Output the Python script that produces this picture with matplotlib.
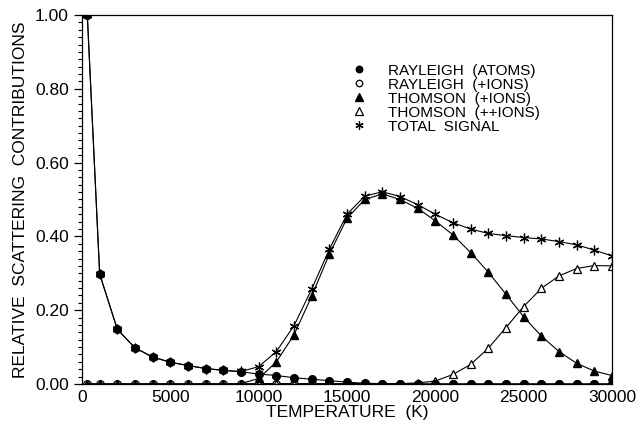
import matplotlib.pyplot as plt
from matplotlib.ticker import MultipleLocator, FormatStrFormatter

# temperature grid (K)
temperature = [300, 1000, 2000, 3000, 4000, 5000, 6000, 7000, 8000, 9000,
               10000, 11000, 12000, 13000, 14000, 15000, 16000, 17000, 18000, 19000,
               20000, 21000, 22000, 23000, 24000, 25000, 26000, 27000, 28000, 29000,
               30000]

rayleigh_atoms = [1.00, 0.298, 0.148, 0.098, 0.073, 0.059, 0.050, 0.042, 0.037, 0.033,
                  0.027, 0.023, 0.017, 0.013, 0.009, 0.005, 0.002, 0.001, 0.001, 0.0,
                  0.0, 0.0, 0.0, 0.0, 0.0, 0.0, 0.0, 0.0, 0.0, 0.0,
                  0.0]
rayleigh_ions = [0.0, 0.0, 0.0, 0.0, 0.0, 0.0, 0.0, 0.0, 0.0, 0.0,
                 0.001, 0.001, 0.001, 0.001, 0.001, 0.001, 0.001, 0.001, 0.0, 0.0,
                 0.0, 0.0, 0.0, 0.0, 0.0, 0.0, 0.0, 0.0, 0.0, 0.0,
                 0.0]
thomson_ions = [0.0, 0.0, 0.0, 0.0, 0.0, 0.0, 0.0, 0.0, 0.0, 0.001,
                0.015, 0.060, 0.133, 0.238, 0.352, 0.449, 0.500, 0.515, 0.500, 0.476,
                0.442, 0.404, 0.356, 0.303, 0.243, 0.182, 0.130, 0.088, 0.056, 0.035,
                0.023]
thomson_ions2 = [0.0, 0.0, 0.0, 0.0, 0.0, 0.0, 0.0, 0.0, 0.0, 0.0,
                 0.0, 0.0, 0.0, 0.0, 0.0, 0.0, 0.0, 0.0, 0.001, 0.003,
                 0.008, 0.026, 0.053, 0.097, 0.153, 0.210, 0.259, 0.293, 0.313, 0.321,
                 0.320]
total_signal = [1.00, 0.298, 0.148, 0.098, 0.073, 0.059, 0.050, 0.042, 0.037, 0.034,
                0.047, 0.088, 0.158, 0.257, 0.365, 0.460, 0.509, 0.521, 0.508, 0.486,
                0.460, 0.437, 0.420, 0.408, 0.402, 0.397, 0.393, 0.386, 0.377, 0.363,
                0.347]

plt.rcParams['font.family'] = ['Liberation Sans', 'DejaVu Sans']

fig = plt.figure(figsize=(6.42, 4.23), dpi=100)
ax = fig.add_axes([82 / 642, 1 - 384 / 423, 530 / 642, 369 / 423])

lw = 0.8
ax.plot(temperature, rayleigh_atoms, color='black', lw=lw, marker='o', ms=5.5,
        mfc='black', mec='black', label='RAYLEIGH  (ATOMS)', zorder=3)
ax.plot(temperature, rayleigh_ions, color='black', lw=lw, marker='o', ms=5.5,
        mfc='white', mec='black', mew=0.9, label='RAYLEIGH  (+IONS)', zorder=2)
ax.plot(temperature, thomson_ions, color='black', lw=lw, marker='^', ms=6,
        mfc='black', mec='black', label='THOMSON  (+IONS)', zorder=3)
ax.plot(temperature, thomson_ions2, color='black', lw=lw, marker='^', ms=6,
        mfc='white', mec='black', mew=0.9, label='THOMSON  (++IONS)', zorder=2)
ax.plot(temperature, total_signal, color='black', lw=lw, marker=(6, 2, 0), ms=7,
        mew=0.9, label='TOTAL  SIGNAL', zorder=4)

ax.set_xlim(0, 30000)
ax.set_ylim(0, 1.0)
ax.set_xticks([0, 5000, 10000, 15000, 20000, 25000, 30000])
ax.yaxis.set_major_locator(MultipleLocator(0.2))
ax.yaxis.set_minor_locator(MultipleLocator(0.02))
ax.yaxis.set_major_formatter(FormatStrFormatter('%.2f'))
ax.tick_params(axis='x', length=0, pad=4, labelsize=12.5)
ax.tick_params(axis='y', which='major', direction='out', length=6, width=0.9, labelsize=12.5)
ax.tick_params(axis='y', which='minor', direction='out', length=3, width=0.8)
for s in ax.spines.values():
    s.set_linewidth(0.9)

ax.set_xlabel('TEMPERATURE  (K)', fontsize=12.5, labelpad=0)
ax.set_ylabel('RELATIVE  SCATTERING  CONTRIBUTIONS', fontsize=12.5, labelpad=5)

leg = ax.legend(loc='upper left', bbox_to_anchor=(0.508, 0.889), frameon=False,
                handlelength=0, handletextpad=1.9, labelspacing=0.0, fontsize=11,
                markerscale=0.85, borderpad=0)
for h in leg.legend_handles:
    h.set_linestyle('none')

fig.savefig('out.png', dpi=100)
